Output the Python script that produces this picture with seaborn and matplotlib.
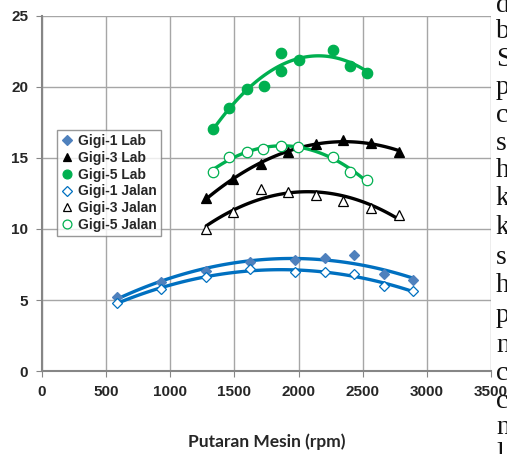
import numpy as np
import pandas as pd
import matplotlib
matplotlib.use("Agg")
import matplotlib.pyplot as plt
import seaborn as sns

# rpm and fuel values
rpm_g1 = [585, 930, 1280, 1625, 1970, 2205, 2435, 2665, 2895]
g1_lab = [5.2, 6.3, 7.05, 7.65, 7.8, 7.95, 8.2, 6.8, 6.4]
g1_jalan = [4.8, 5.8, 6.6, 7.2, 7.0, 6.95, 6.85, 6.0, 5.65]

rpm_g3 = [1280, 1490, 1705, 1920, 2135, 2350, 2565, 2780]
g3_lab = [12.15, 13.55, 14.6, 15.4, 16.0, 16.25, 16.05, 15.45]
g3_jalan = [10.0, 11.2, 12.8, 12.6, 12.4, 12.0, 11.5, 11.0]

rpm_g5_lab = [1330, 1460, 1595, 1730, 1865, 1865, 2000, 2265, 2400, 2535]
g5_lab = [17.05, 18.55, 19.85, 20.1, 21.1, 22.4, 21.9, 22.6, 21.5, 21.0]
rpm_g5_jalan = [1330, 1460, 1595, 1725, 1865, 1995, 2265, 2400, 2535]
g5_jalan = [14.0, 15.1, 15.45, 15.65, 15.85, 15.75, 15.1, 14.0, 13.45]

blue_line = "#0070C0"
blue_mark = "#4F81BD"
green = "#00B050"

series = [
    ("Gigi-1 Lab", rpm_g1, g1_lab, "D", blue_mark, blue_mark, blue_line, 5.5),
    ("Gigi-3 Lab", rpm_g3, g3_lab, "^", "black", "black", "black", 7),
    ("Gigi-5 Lab", rpm_g5_lab, g5_lab, "o", green, green, green, 7.5),
    ("Gigi-1 Jalan", rpm_g1, g1_jalan, "D", "white", blue_line, blue_line, 5.5),
    ("Gigi-3 Jalan", rpm_g3, g3_jalan, "^", "white", "black", "black", 7),
    ("Gigi-5 Jalan", rpm_g5_jalan, g5_jalan, "o", "white", green, green, 7.5),
]

sns.set_style("white")
fig = plt.figure(figsize=(5.07, 4.54), dpi=100)
ax = fig.add_axes([0.0828, 0.1828, 0.8856, 0.7820])

handles = []
for name, x, y, mk, fc, ec, lc, ms in series:
    df = pd.DataFrame({"rpm": x, "val": y})
    # polynomial (order 2) trendline like the spreadsheet chart
    sns.regplot(data=df, x="rpm", y="val", order=2, ci=None, scatter=False,
                truncate=True, ax=ax, line_kws={"color": lc, "lw": 2.4, "zorder": 2})
    h, = ax.plot(x, y, linestyle="none", marker=mk, markersize=ms,
                 markerfacecolor=fc, markeredgecolor=ec, markeredgewidth=0.9,
                 label=name, zorder=3)
    handles.append(h)

ax.set_xlim(0, 3500)
ax.set_ylim(0, 25)
ax.set_xticks(np.arange(0, 3501, 500))
ax.set_yticks(np.arange(0, 26, 5))
ax.grid(True, color="#a6a6a6", lw=1)
ax.set_axisbelow(True)
for s in ["top", "right"]:
    ax.spines[s].set_visible(False)
for s in ["left", "bottom"]:
    ax.spines[s].set_color("#868686")
    ax.spines[s].set_linewidth(1.5)
ax.tick_params(axis="both", length=4, color="#868686", direction="out",
               left=True, bottom=True, pad=6)
for lab in ax.get_xticklabels() + ax.get_yticklabels():
    lab.set_family(["Liberation Sans Narrow", "Liberation Sans"])
    lab.set_fontweight("bold")
    lab.set_fontsize(11)
ax.set_xlabel("Putaran Mesin (rpm)", family=["Lato", "DejaVu Sans"],
              fontweight="bold", fontsize=12.5, labelpad=25)
ax.set_ylabel("")

leg = ax.legend(handles=handles, loc="upper left", bbox_to_anchor=(0.033, 0.679),
                frameon=True, fancybox=False, borderpad=0.3, labelspacing=0.2,
                handlelength=0.8, handletextpad=0.4, borderaxespad=0,
                markerscale=0.85,
                prop={"family": ["Liberation Sans Narrow", "Liberation Sans"],
                      "weight": "bold", "size": 10})
leg.get_frame().set_edgecolor("#7f7f7f")
leg.get_frame().set_linewidth(1)

# cropped body text of the page at the right edge
side_letters = ["d", "b", "S", "p", "c", "s", "h", "k", "k", "s", "h", "p",
                "n", "c", "c", "n", "l"]
side_y = [5, 32, 60, 88, 116, 143, 171, 199, 228, 258, 286, 315, 345, 373, 402, 428, 455]
for ch, py in zip(side_letters, side_y):
    fig.text(496 / 507, 1 - py / 454, ch, family=["Liberation Serif", "DejaVu Serif"],
             fontsize=20, va="center", ha="left", color="#111111")

fig.savefig("out.png", dpi=100)
